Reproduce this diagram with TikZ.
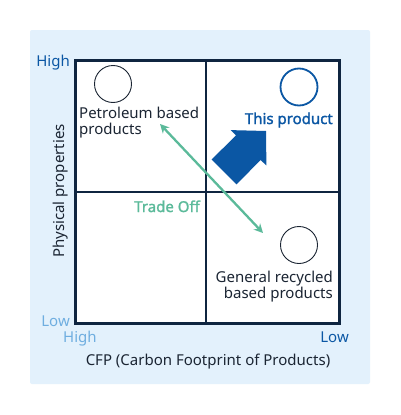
\documentclass[tikz,border=0pt]{standalone}
\usepackage{fontspec}
\setmainfont{Noto Sans}
\newfontfamily\heavysans{Noto Sans}[FakeBold=1.6]
\usetikzlibrary{arrows.meta}

\definecolor{panel}{HTML}{E3F1FC}
\definecolor{frame}{HTML}{0F2540}
\definecolor{deepblue}{HTML}{0B57A4}
\definecolor{paleblue}{HTML}{6FAEE0}
\definecolor{tradegreen}{HTML}{5BBA9A}
\definecolor{ink}{HTML}{1B2533}

\tikzset{
	lbl/.style={inner sep=0pt, text=ink, font=\fontsize{15}{16}\selectfont},
	boldlbl/.style={lbl, font=\heavysans\fontsize{15}{16}\selectfont},
	spot/.style={circle, draw=ink, line width=0.9pt, minimum size=37pt, inner sep=0pt},
	tradeoff/.style={draw=tradegreen, line width=2.3pt, {Stealth[length=9pt,width=9pt]}-{Stealth[length=9pt,width=9pt]}}
}

\begin{document}
\begin{tikzpicture}[x=1pt,y=-1pt]
	\useasboundingbox (0,0) rectangle (400,415);
	\fill[white] (0,0) rectangle (400,415);
	\fill[panel, rounded corners=2pt] (30,30) rectangle (370,384);
	% quadrants
	\fill[white] (75.5,60.5) rectangle (339,323.5);
	\draw[frame, line width=2pt] (206,60.5) -- (206,323.5);
	\draw[frame, line width=2pt] (75.5,191.8) -- (339,191.8);
	\draw[frame, line width=3pt] (75.5,60.5) rectangle (339,323.5);
	% products
	\node[spot] (petro) at (113,84) {};
	\node[spot, draw=deepblue, line width=1.8pt] (ours) at (299,87) {};
	\node[spot] (recycled) at (299,245) {};
	\node[lbl, anchor=base west, align=left] (petrotxt) at (79,134) {Petroleum based\\products};
	\node[boldlbl, anchor=base east, text=deepblue] (ourstxt) at (333,124) {This product};
	\node[lbl, anchor=base east, align=right] (recycledtxt) at (333,298) {General recycled\\based products};
	% move to the upper right
	\fill[deepblue] (211.6,159.6) -- (235.9,135.4) -- (230.6,130.1) -- (266,131) -- (266.4,165.4)
		-- (260.6,160.1) -- (236.4,184.4) -- cycle;
	% trade off
	\coordinate (tA) at (160,124);
	\coordinate (tB) at (263,233);
	\draw[tradeoff] (tA) -- (tB);
	\node[boldlbl, anchor=base east, text=tradegreen] (tradetxt) at (200,212) {Trade Off};
	% axes
	\node[lbl, anchor=base east, text=deepblue] (yhigh) at (70,66) {High};
	\node[lbl, anchor=base east, text=paleblue] (ylow) at (70,326) {Low};
	\node[lbl, anchor=base west, text=paleblue] (xhigh) at (63,342) {High};
	\node[lbl, anchor=base east, text=deepblue] (xlow) at (349,342) {Low};
	\node[lbl, anchor=base] (xname) at (208,365) {CFP (Carbon Footprint of Products)};
	\node[lbl, anchor=base, rotate=90] (yname) at (64,191) {Physical properties};
\end{tikzpicture}
\end{document}
